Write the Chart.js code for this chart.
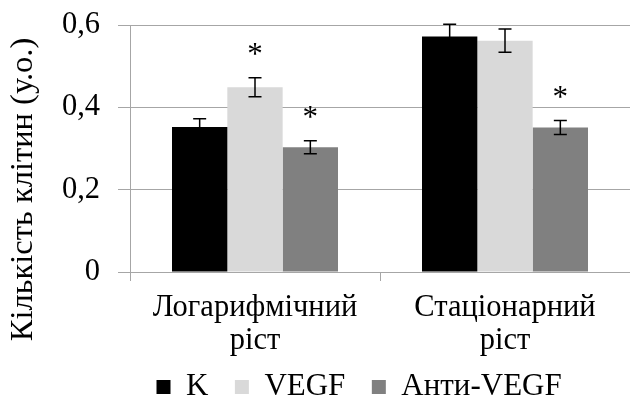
<!DOCTYPE html>
<html><head><meta charset="utf-8">
<script src="https://cdn.jsdelivr.net/npm/chart.js@4.4.0/dist/chart.umd.min.js"></script>
<style>html,body{margin:0;padding:0;background:#fff}#wrap{width:630px;height:400px}</style>
</head><body><div id="wrap"><canvas id="c" width="630" height="400"></canvas></div>
<script>
const categories = [["Логарифмічний","ріст"],["Стаціонарний","ріст"]];
const seriesNames = ["K","VEGF","Анти-VEGF"];
const valuesK = [0.352, 0.572];
const valuesVEGF = [0.449, 0.562];
const valuesAnti = [0.303, 0.351];
const errK = [0.020, 0.030];
const errVEGF = [0.023, 0.028];
const errAnti = [0.016, 0.017];
const starK = [false, false];
const starVEGF = [true, false];
const starAnti = [true, true];
const yTicks = [0, 0.2, 0.4, 0.6];
const yTitle = "Кількість клітин (у.о.)";

const FONT = "'Liberation Serif','Times New Roman',serif";

const errorBars = {
  id: 'errorBars',
  afterDatasetsDraw(chart) {
    const ctx = chart.ctx, y = chart.scales.y;
    chart.data.datasets.forEach((ds, di) => {
      const meta = chart.getDatasetMeta(di);
      meta.data.forEach((el, i) => {
        const v = ds.data[i], e = ds.errors[i];
        const yt = y.getPixelForValue(v + e), yb = y.getPixelForValue(v - e);
        const x = el.x;
        ctx.save();
        ctx.strokeStyle = '#000'; ctx.lineWidth = 1.5;
        ctx.beginPath();
        ctx.moveTo(x, yt); ctx.lineTo(x, yb);
        ctx.moveTo(x - 6.5, yt); ctx.lineTo(x + 6.5, yt);
        ctx.moveTo(x - 6.5, yb); ctx.lineTo(x + 6.5, yb);
        ctx.stroke();
        if (ds.stars[i]) {
          ctx.fillStyle = '#000';
          ctx.font = '31px ' + FONT;
          ctx.textAlign = 'center';
          ctx.textBaseline = 'alphabetic';
          ctx.fillText('*', x, yt - 14);
        }
        ctx.restore();
      });
    });
  }
};

const yAxisTitle = {
  id: 'yAxisTitle',
  afterLayout(chart) {
    // let the multi-line category labels extend over the legend band
    chart.scales.x.bottom = chart.height;
  },
  afterDraw(chart) {
    const ctx = chart.ctx, a = chart.chartArea;
    ctx.save();
    ctx.translate(23, (a.top + a.bottom) / 2 + 41);
    ctx.rotate(-Math.PI / 2);
    ctx.fillStyle = '#000';
    ctx.font = '32.5px ' + FONT;
    ctx.textAlign = 'center';
    ctx.textBaseline = 'middle';
    ctx.fillText(yTitle, 0, 0);
    ctx.restore();
  }
};

new Chart(document.getElementById('c'), {
  type: 'bar',
  data: {
    labels: categories,
    datasets: [
      {label: seriesNames[0], data: valuesK, errors: errK, stars: starK, backgroundColor: '#000000'},
      {label: seriesNames[1], data: valuesVEGF, errors: errVEGF, stars: starVEGF, backgroundColor: '#d9d9d9'},
      {label: seriesNames[2], data: valuesAnti, errors: errAnti, stars: starAnti, backgroundColor: '#808080'}
    ]
  },
  options: {
    responsive: false,
    animation: false,
    devicePixelRatio: 1,
    layout: {padding: {top: 25, right: 0, left: 0, bottom: -12.5}},
    datasets: {bar: {barPercentage: 1, categoryPercentage: 0.664}},
    plugins: {
      legend: {
        position: 'bottom',
        align: 'start',
        fullSize: false,
        labels: {color: '#000', font: {family: FONT, size: 31}, boxWidth: 14, boxHeight: 14, padding: 26.5}
      },
      tooltip: {enabled: false}
    },
    scales: {
      x: {
        afterFit(s) { s.height = 73; },
        grid: {display: true, drawOnChartArea: false, drawTicks: true, tickLength: 9, color: '#a6a6a6', offset: true},
        border: {color: '#a6a6a6'},
        ticks: {color: '#000', font: {family: FONT, size: 30.5, lineHeight: 1.09}, padding: 10, maxRotation: 0}
      },
      y: {
        min: 0, max: 0.6,
        afterFit(s) { s.width = 130; s.paddingTop = 0; s.paddingBottom = 0; },
        afterBuildTicks(s) { s.ticks = yTicks.map(v => ({value: v})); },
        grid: {color: '#a6a6a6', tickLength: 12},
        border: {color: '#a6a6a6'},
        ticks: {color: '#000', font: {family: FONT, size: 30.5}, padding: 18,
          callback: v => String(v).replace('.', ',')}
      }
    }
  },
  plugins: [errorBars, yAxisTitle]
});
</script></body></html>
